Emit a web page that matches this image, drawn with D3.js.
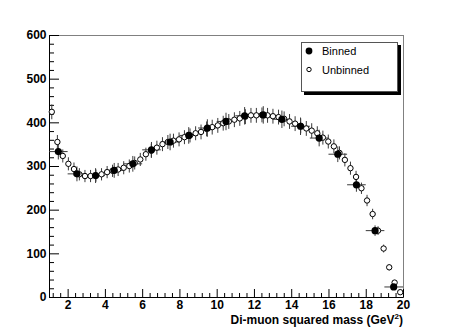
<!DOCTYPE html>
<html>
<head>
<meta charset="utf-8">
<script src="https://cdn.jsdelivr.net/npm/d3@7/dist/d3.min.js"></script>
<style>
  html, body { margin: 0; padding: 0; background: #fff; }
  svg { display: block; }
  .tick text { font-family: "Liberation Sans", Arial, Helvetica, sans-serif; font-weight: bold; font-size: 12px; fill: #000; }
</style>
</head>
<body>
<svg id="chart" width="454" height="334"></svg>
<script>
// ---- data ----
const binnedX = [1.5,2.5,3.5,4.5,5.5,6.5,7.5,8.5,9.5,10.5,11.5,12.5,13.5,14.5,15.5,16.5,17.5,18.5,19.5];
const binnedY = [333,282,278,290,305,337,355,370,387,402,415,417,407,391,364,327,257,152,23];
const binnedErr = [18,17,17,17,18,18,19,19,20,20,20,20,20,20,19,18,16,12,5];
const binHalfWidth = 0.5;

const unbinnedX = [1.15,1.45,1.74,2.04,2.34,2.63,2.93,3.23,3.52,3.82,4.12,4.41,4.71,5.01,5.31,5.60,
  5.90,6.20,6.49,6.79,7.09,7.38,7.68,7.98,8.27,8.57,8.87,9.16,9.46,9.76,10.06,10.35,
  10.65,10.95,11.24,11.54,11.84,12.13,12.43,12.73,13.02,13.32,13.62,13.91,14.21,14.51,14.81,15.10,
  15.40,15.70,15.99,16.29,16.59,16.88,17.18,17.48,17.77,18.07,18.37,18.66,18.96,19.26,19.55,19.85];
const unbinnedY = [424,355,323,305,293,281,277,277,278,281,286,289,292,296,300,307,
  315,327,335,342,350,355,358,361,366,370,375,378,385,389,393,398,
  402,406,409,413,416,416,417,416,414,412,408,402,397,392,386,381,
  375,365,356,345,330,314,295,275,249,221,190,152,111,68,33,11];
const unbinnedErr = [17,16,15,15,15,14,14,14,14,14,14,14,15,15,15,15,
  15,15,16,16,16,16,16,16,16,16,16,17,17,17,17,17,
  17,17,17,17,17,17,17,17,17,17,17,17,17,17,17,17,
  16,16,16,16,15,15,15,14,13,13,12,10,9,7,5,3];

const xMajorTicks = [2,4,6,8,10,12,14,16,18,20];
const xMinorTicks = [1.2,1.6,2.4,2.8,3.2,3.6,4.4,4.8,5.2,5.6,6.4,6.8,7.2,7.6,8.4,8.8,9.2,9.6,
  10.4,10.8,11.2,11.6,12.4,12.8,13.2,13.6,14.4,14.8,15.2,15.6,16.4,16.8,17.2,17.6,18.4,18.8,19.2,19.6];
const yMajorTicks = [0,100,200,300,400,500,600];
const yMinorTicks = [20,40,60,80,120,140,160,180,220,240,260,280,320,340,360,380,420,440,460,480,520,540,560,580];

const legendLabels = ["Binned", "Unbinned"];
const xTitle = "Di-muon squared mass (GeV";

// ---- layout ----
const L = 49, R = 403, T = 35, B = 297;
const svg = d3.select("#chart");
const x = d3.scaleLinear().domain([1, 20]).range([L, R]);
const y = d3.scaleLinear().domain([0, 600]).range([B, T]);

// frame
svg.append("rect").attr("x", L + 0.5).attr("y", T + 0.5).attr("width", R - L).attr("height", B - T)
  .attr("fill", "none").attr("stroke", "#808080").attr("stroke-width", 1);

// x axis
const gx = svg.append("g").attr("transform", `translate(0,${B})`);
gx.call(d3.axisBottom(x).tickValues(xMajorTicks).tickSize(-8).tickSizeOuter(0).tickPadding(3).tickFormat(d3.format("d")));
svg.append("g").attr("transform", `translate(0,${B})`)
  .call(d3.axisBottom(x).tickValues(xMinorTicks).tickSize(-4).tickSizeOuter(0).tickFormat(""))
  .select(".domain").remove();

// y axis
const gy = svg.append("g").attr("transform", `translate(${L},0)`);
gy.call(d3.axisLeft(y).tickValues(yMajorTicks).tickSize(-10).tickSizeOuter(0).tickPadding(2.5).tickFormat(d3.format("d")));
svg.append("g").attr("transform", `translate(${L},0)`)
  .call(d3.axisLeft(y).tickValues(yMinorTicks).tickSize(-5).tickSizeOuter(0).tickFormat(""))
  .select(".domain").remove();

svg.selectAll(".domain").attr("stroke", "#000");
svg.selectAll(".tick line").attr("stroke", "#000");

// x title
const t = svg.append("text").attr("x", R).attr("y", 323.5).attr("text-anchor", "end")
  .style("font-family", "'Liberation Sans', Arial, Helvetica, sans-serif")
  .style("font-weight", "bold").style("font-size", "12px").text(xTitle);
t.append("tspan").attr("dy", -5).style("font-size", "8px").text("2");
t.append("tspan").attr("dy", 5).text(")");

// data layers
const plot = svg.append("g");
const binned = binnedX.map((d, i) => ({x: d, y: binnedY[i], e: binnedErr[i]}));
const unbinned = unbinnedX.map((d, i) => ({x: d, y: unbinnedY[i], e: unbinnedErr[i]}));
const errColor = "#3a3a3a";

// binned error bars
plot.selectAll(".bv").data(binned).join("line")
  .attr("x1", d => x(d.x)).attr("x2", d => x(d.x))
  .attr("y1", d => y(d.y - d.e)).attr("y2", d => y(d.y + d.e))
  .attr("stroke", errColor).attr("stroke-width", 1);
plot.selectAll(".bh").data(binned).join("line")
  .attr("x1", d => x(d.x - binHalfWidth)).attr("x2", d => Math.min(R, x(d.x + binHalfWidth)))
  .attr("y1", d => y(d.y)).attr("y2", d => y(d.y))
  .attr("stroke", errColor).attr("stroke-width", 1);

// unbinned error bars
plot.selectAll(".uv").data(unbinned).join("line")
  .attr("x1", d => x(d.x)).attr("x2", d => x(d.x))
  .attr("y1", d => y(d.y - d.e)).attr("y2", d => y(d.y + d.e))
  .attr("stroke", errColor).attr("stroke-width", 1);

// unbinned markers
plot.selectAll(".um").data(unbinned).join("circle")
  .attr("cx", d => x(d.x)).attr("cy", d => y(d.y)).attr("r", 2.7)
  .attr("fill", "#fff").attr("stroke", "#000").attr("stroke-width", 1);

// binned markers
plot.selectAll(".bm").data(binned).join("circle")
  .attr("cx", d => x(d.x)).attr("cy", d => y(d.y)).attr("r", 3.6)
  .attr("fill", "#000");

// legend
const lg = svg.append("g");
lg.append("rect").attr("x", 304).attr("y", 45).attr("width", 97).attr("height", 50).attr("fill", "#000");
lg.append("rect").attr("x", 301.5).attr("y", 42.5).attr("width", 96).attr("height", 49)
  .attr("fill", "#fff").attr("stroke", "#555").attr("stroke-width", 1);
lg.append("circle").attr("cx", 309).attr("cy", 51).attr("r", 3.4).attr("fill", "#000");
lg.append("circle").attr("cx", 309).attr("cy", 69.5).attr("r", 2.2).attr("fill", "#fff").attr("stroke", "#000");
lg.selectAll(".lt").data(legendLabels).join("text")
  .attr("x", 322).attr("y", (d, i) => 55 + i * 18.5)
  .style("font-family", "'Liberation Sans', Arial, Helvetica, sans-serif")
  .style("font-size", "11px").text(d => d);
</script>
</body>
</html>
